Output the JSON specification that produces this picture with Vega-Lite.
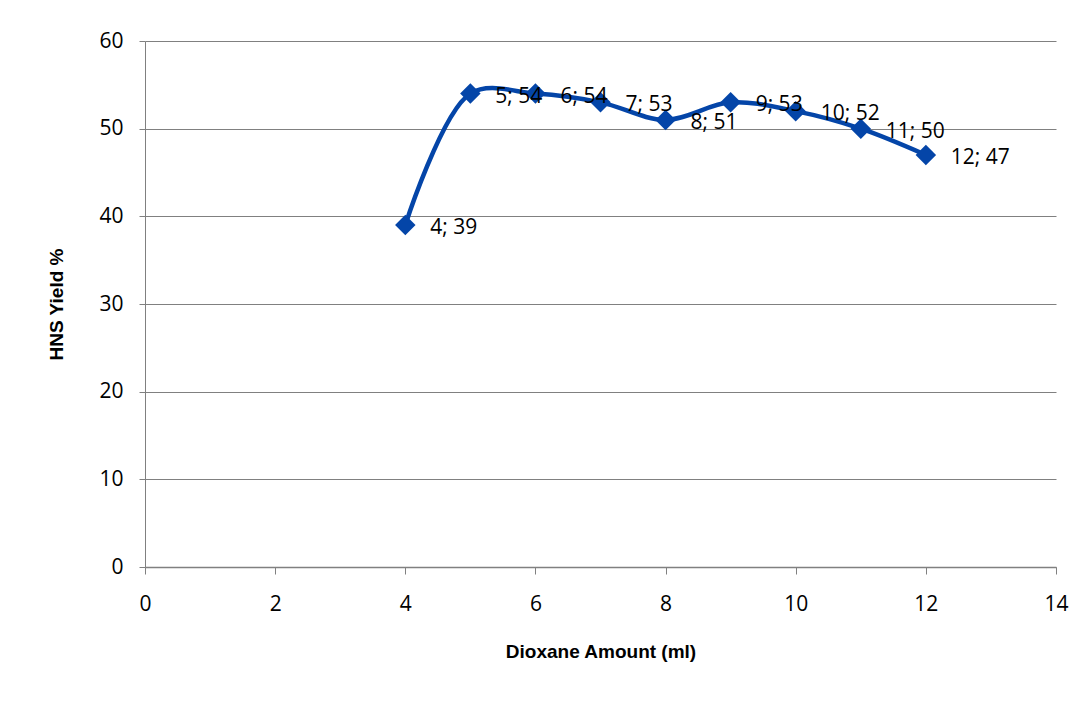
{
  "$schema": "https://vega.github.io/schema/vega-lite/v6.json",
  "width": 911,
  "height": 526,
  "autosize": {"type": "none"},
  "padding": {"left": 145, "top": 41, "right": 34, "bottom": 137},
  "background": "white",
  "config": {"view": {"stroke": null}},
  "data": {
    "values": [
      {"x": 4, "y": 39},
      {"x": 5, "y": 54},
      {"x": 6, "y": 54},
      {"x": 7, "y": 53},
      {"x": 8, "y": 51},
      {"x": 9, "y": 53},
      {"x": 10, "y": 52},
      {"x": 11, "y": 50},
      {"x": 12, "y": 47}
    ]
  },
  "transform": [{"calculate": "datum.x + '; ' + datum.y", "as": "label"}],
  "encoding": {
    "x": {
      "field": "x", "type": "quantitative",
      "scale": {"domain": [0, 14], "nice": false, "zero": false},
      "axis": {
        "values": [0, 2, 4, 6, 8, 10, 12, 14],
        "grid": false,
        "title": "Dioxane Amount (ml)",
        "titleFont": "Liberation Sans",
        "titleFontSize": 19,
        "titleFontWeight": "bold",
        "titleColor": "#000000",
        "titlePadding": 28,
        "labelFont": "Open Sans",
        "labelFontSize": 21,
        "labelColor": "#000000",
        "labelPadding": 19,
        "tickSize": 7,
        "tickColor": "#808080",
        "domainColor": "#808080",
        "domainWidth": 1.5,
        "labelFlush": false
      }
    },
    "y": {
      "field": "y", "type": "quantitative",
      "scale": {"domain": [0, 60], "nice": false},
      "axis": {
        "values": [0, 10, 20, 30, 40, 50, 60],
        "grid": true,
        "gridColor": "#808080",
        "gridWidth": 1,
        "title": "HNS Yield %",
        "titleFont": "Liberation Sans",
        "titleFontSize": 19,
        "titleFontWeight": "bold",
        "titleColor": "#000000",
        "titlePadding": 32,
        "labelFont": "Open Sans",
        "labelFontSize": 21,
        "labelColor": "#000000",
        "labelPadding": 16,
        "tickSize": 6,
        "tickColor": "#808080",
        "domainColor": "#808080",
        "labelFlush": false
      }
    }
  },
  "layer": [
    {
      "mark": {"type": "line", "interpolate": "catmull-rom", "color": "#0445A8", "strokeWidth": 4.5}
    },
    {
      "mark": {"type": "point", "shape": "diamond", "filled": true, "opacity": 1, "color": "#0445A8", "size": 420}
    },
    {
      "mark": {"type": "text", "align": "left", "baseline": "middle", "dx": 25, "dy": 3, "font": "Open Sans", "fontSize": 21, "color": "#000000"},
      "encoding": {"text": {"field": "label"}}
    }
  ]
}
